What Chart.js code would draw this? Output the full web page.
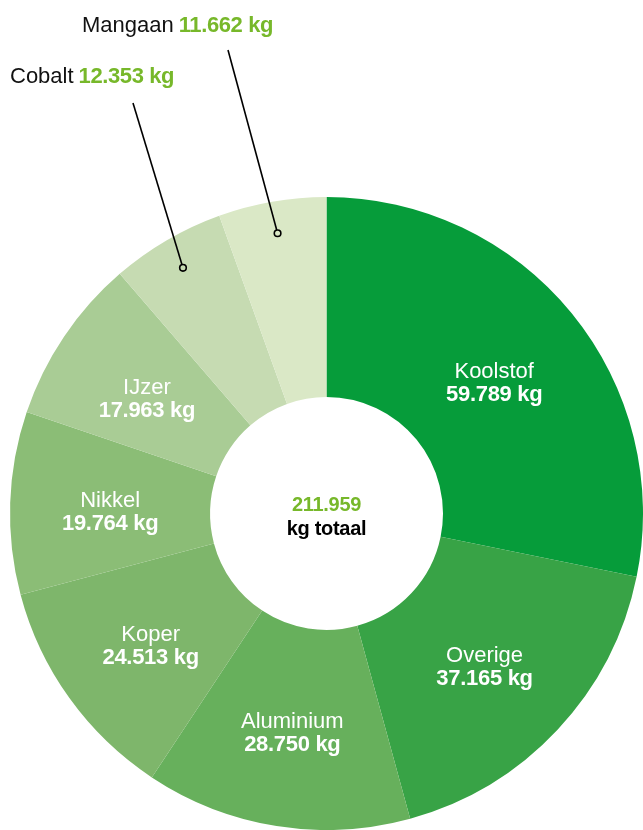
<!DOCTYPE html>
<html>
<head>
<meta charset="utf-8">
<script src="https://cdn.jsdelivr.net/npm/chart.js@4"></script>
<style>
  html, body { margin: 0; padding: 0; background: #fff; }
  body { width: 643px; height: 830px; overflow: hidden; }
  #wrap { position: relative; width: 643px; height: 830px; }
</style>
</head>
<body>
<div id="wrap"><canvas id="myChart"></canvas></div>
<script>
const materials = ["Koolstof", "Overige", "Aluminium", "Koper", "Nikkel", "IJzer", "Cobalt", "Mangaan"];
const weights = [59789, 37165, 28750, 24513, 19764, 17963, 12353, 11662];
const sliceColors = ["#069c3a", "#38a346", "#67b05c", "#7eb66b", "#8bbd76", "#a9cc95", "#c6dbb2", "#dae8c6"];
const calloutMaterials = ["Cobalt", "Mangaan"];
const totalLabel = "kg totaal";

const green = "#77b82a";
const fontFamily = "'Liberation Sans', Arial, sans-serif";

// where the outside labels sit (text left / baseline, start of leader line)
const callouts = {
  Mangaan: { textX: 82, textY: 32, lineX: 228, lineY: 50 },
  Cobalt: { textX: 10, textY: 83, lineX: 133, lineY: 103 }
};

const fmt = n => String(n).replace(/\B(?=(\d{3})+(?!\d))/g, ".");

const sliceLabels = {
  id: "sliceLabels",
  afterDatasetsDraw(chart) {
    const ctx = chart.ctx;
    const meta = chart.getDatasetMeta(0);
    ctx.save();
    ctx.textBaseline = "alphabetic";

    meta.data.forEach((arc, i) => {
      const name = materials[i];
      const val = fmt(weights[i]) + " kg";
      const p = arc.getProps(["x", "y", "startAngle", "endAngle", "innerRadius", "outerRadius"], true);

      if (calloutMaterials.includes(name)) {
        const c = callouts[name];
        const mid = (p.startAngle + p.endAngle) / 2;
        const r = p.innerRadius + 0.84 * (p.outerRadius - p.innerRadius);
        const dotX = p.x + Math.cos(mid) * r;
        const dotY = p.y + Math.sin(mid) * r;
        const ang = Math.atan2(dotY - c.lineY, dotX - c.lineX);
        const rad = 3.3;

        ctx.strokeStyle = "#000";
        ctx.lineWidth = 1.6;
        ctx.beginPath();
        ctx.moveTo(c.lineX, c.lineY);
        ctx.lineTo(dotX - Math.cos(ang) * rad, dotY - Math.sin(ang) * rad);
        ctx.stroke();
        ctx.beginPath();
        ctx.arc(dotX, dotY, rad, 0, Math.PI * 2);
        ctx.fillStyle = sliceColors[i];
        ctx.fill();
        ctx.stroke();

        ctx.textAlign = "left";
        ctx.letterSpacing = "0px";
        ctx.font = "22px " + fontFamily;
        ctx.fillStyle = "#111";
        ctx.fillText(name, c.textX, c.textY);
        const w = ctx.measureText(name).width + 5;
        ctx.letterSpacing = "-0.4px";
        ctx.font = "bold 22px " + fontFamily;
        ctx.fillStyle = green;
        ctx.fillText(val, c.textX + w, c.textY);
      } else {
        const pos = arc.tooltipPosition(true);
        ctx.textAlign = "center";
        ctx.fillStyle = "#fff";
        ctx.letterSpacing = "0px";
        ctx.font = "22px " + fontFamily;
        ctx.fillText(name, pos.x, pos.y + 1);
        ctx.letterSpacing = "-0.3px";
        ctx.font = "bold 22px " + fontFamily;
        ctx.fillText(val, pos.x, pos.y + 24);
      }
    });

    // centre total
    const a = meta.data[0];
    const total = weights.reduce((s, v) => s + v, 0);
    ctx.textAlign = "center";
    ctx.letterSpacing = "-0.3px";
    ctx.font = "bold 20px " + fontFamily;
    ctx.fillStyle = green;
    ctx.fillText(fmt(total), a.x, a.y - 3);
    ctx.fillStyle = "#000";
    ctx.fillText(totalLabel, a.x, a.y + 21);
    ctx.restore();
  }
};

const ctx = document.getElementById("myChart").getContext("2d");
const myDoughnutChart = new Chart(ctx, {
  type: "doughnut",
  data: {
    labels: materials,
    datasets: [{
      data: weights,
      backgroundColor: sliceColors,
      borderWidth: 0
    }]
  },
  options: {
    responsive: true,
    maintainAspectRatio: false,
    animation: false,
    cutout: "36.8%",
    layout: { padding: { left: 10, top: 197, right: 0, bottom: 0 } },
    plugins: {
      legend: { display: false },
      tooltip: { enabled: false }
    }
  },
  plugins: [sliceLabels]
});
</script>
</body>
</html>
